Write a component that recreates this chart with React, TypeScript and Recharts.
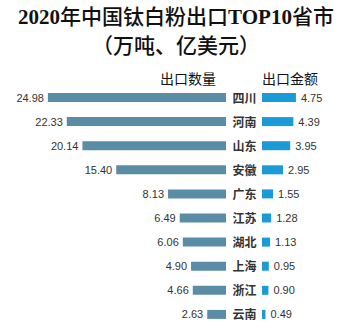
import React from 'react';
import { BarChart, Bar, XAxis, YAxis, LabelList } from 'recharts';

const provinces = ['四川', '河南', '山东', '安徽', '广东', '江苏', '湖北', '上海', '浙江', '云南'];
const exportVolume = [24.98, 22.33, 20.14, 15.4, 8.13, 6.49, 6.06, 4.9, 4.66, 2.63];
const exportValue = [4.75, 4.39, 3.95, 2.95, 1.55, 1.28, 1.13, 0.95, 0.9, 0.49];

const data = provinces.map((name, i) => ({
  name,
  volume: exportVolume[i],
  value: exportValue[i],
}));

const labelFont = "'Liberation Sans', 'DejaVu Sans', sans-serif";
const cjkFont = "'Noto Sans CJK SC', sans-serif";

const LeftLabel = (props: any) => {
  const { x, y, width, height, value } = props;
  const left = Math.min(x, x + width);
  return (
    <text
      x={left - 4}
      y={y + height / 2}
      textAnchor="end"
      dominantBaseline="central"
      fontSize={11}
      fontFamily={labelFont}
      fill="#333"
    >
      {Number(value).toFixed(2)}
    </text>
  );
};

const RightLabel = (props: any) => {
  const { x, y, width, height, value } = props;
  const right = Math.max(x, x + width);
  return (
    <text
      x={right + 5}
      y={y + height / 2}
      textAnchor="start"
      dominantBaseline="central"
      fontSize={11}
      fontFamily={labelFont}
      fill="#333"
    >
      {Number(value).toFixed(2)}
    </text>
  );
};

const NameTick = (props: any) => {
  const { y, payload } = props;
  return (
    <text
      x={244.5}
      y={y}
      textAnchor="middle"
      dominantBaseline="central"
      fontSize={12}
      fontWeight="bold"
      fontFamily={cjkFont}
      fill="#333"
    >
      {payload.value}
    </text>
  );
};

export default function App() {
  return (
    <div
      style={{
        position: 'absolute',
        left: 0,
        top: 0,
        width: 352,
        height: 323,
        overflow: 'hidden',
        background: '#fff',
      }}
    >
      <div
        style={{
          position: 'absolute',
          top: 3,
          left: 0,
          width: 352,
          textAlign: 'center',
          fontSize: 21,
          lineHeight: '29px',
          fontWeight: 500,
          fontFamily: "'Liberation Serif', 'Noto Sans CJK SC', serif",
          color: '#111',
        }}
      >
        <div style={{ fontWeight: 'bold' }}>
          2020<span style={{ fontWeight: 500 }}>年中国钛白粉出口</span>TOP10
          <span style={{ fontWeight: 500 }}>省市</span>
        </div>
        <div>（万吨、亿美元）</div>
      </div>

      <div
        style={{
          position: 'absolute',
          top: 68,
          left: 160,
          fontSize: 14,
          lineHeight: '20px',
          fontFamily: cjkFont,
          color: '#111',
        }}
      >
        出口数量
      </div>
      <div
        style={{
          position: 'absolute',
          top: 68,
          left: 262,
          fontSize: 14,
          lineHeight: '20px',
          fontFamily: cjkFont,
          color: '#111',
        }}
      >
        出口金额
      </div>

      <div style={{ position: 'absolute', left: 0, top: 0 }}>
        <BarChart
          width={262}
          height={326}
          layout="vertical"
          data={data}
          margin={{ top: 85, right: 0, bottom: 0, left: 0 }}
        >
          <XAxis type="number" hide domain={[0, 31.7]} reversed allowDataOverflow />
          <YAxis
            type="category"
            dataKey="name"
            orientation="right"
            width={36}
            axisLine={false}
            tickLine={false}
            tick={<NameTick />}
            interval={0}
          />
          <Bar dataKey="volume" fill="#5B8CA5" barSize={9} isAnimationActive={false}>
            <LabelList dataKey="volume" content={<LeftLabel />} />
          </Bar>
        </BarChart>
      </div>

      <div style={{ position: 'absolute', left: 262, top: 0 }}>
        <BarChart
          width={90}
          height={326}
          layout="vertical"
          data={data}
          margin={{ top: 85, right: 0, bottom: 0, left: 0 }}
        >
          <XAxis type="number" hide domain={[0, 12.6]} allowDataOverflow />
          <YAxis type="category" dataKey="name" hide />
          <Bar dataKey="value" fill="#1A9AD6" barSize={9} isAnimationActive={false}>
            <LabelList dataKey="value" content={<RightLabel />} />
          </Bar>
        </BarChart>
      </div>
    </div>
  );
}
